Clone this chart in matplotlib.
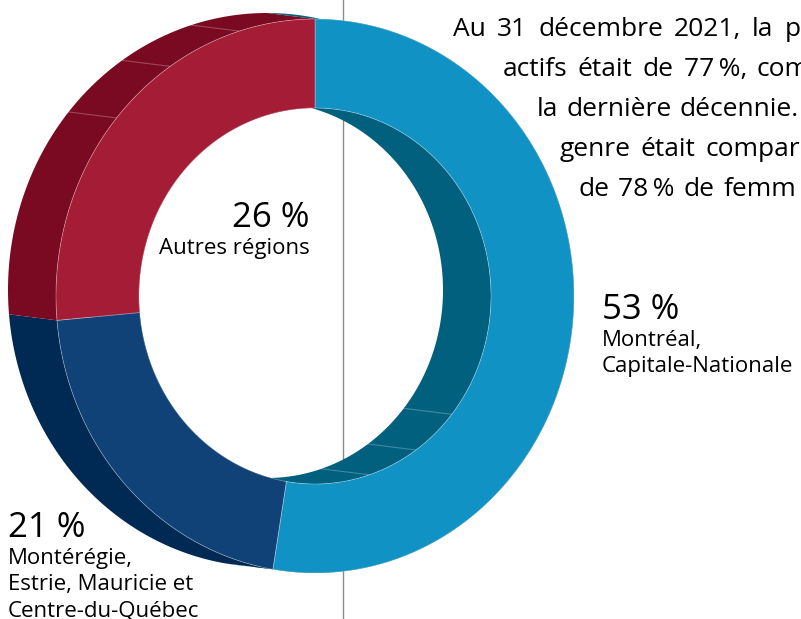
import numpy as np
import matplotlib
matplotlib.use("Agg")
from matplotlib import pyplot as plt
from matplotlib.patches import Polygon

# data (shares estimated from the arcs, labels show the rounded values)
regions = ["Montréal,\nCapitale-Nationale",
           "Montérégie,\nEstrie, Mauricie et\nCentre-du-Québec",
           "Autres régions"]
shares = [52.6, 21.0, 26.4]
face_colors = ["#1192c4", "#104277", "#a41c35"]
side_colors = ["#02607f", "#002953", "#7a0a22"]
intro_lines = ["Au 31 décembre 2021, la p",
               "actifs était de 77\u2009%, com",
               "la dernière décennie.",
               "genre était compar",
               "de 78\u2009% de femm"]

plt.rcParams['font.family'] = ['Open Sans', 'DejaVu Sans']

W, H = 801, 619
fig = plt.figure(figsize=(W / 100, H / 100), dpi=100)
ax = fig.add_axes([0, 0, 1, 1])
ax.set_xlim(0, W)
ax.set_ylim(H, 0)
ax.axis("off")

# donut geometry (pixels): front face, back face shifted up-left
cx, cy = 315, 296
dx, dy = -48, -6
rxo, ryo = 259, 277
rxi, ryi = 176, 188


def arc(x0, y0, rx, ry, t1, t2, n=200):
    t = np.radians(np.linspace(t1, t2, n))
    return np.column_stack([x0 + rx * np.cos(t), y0 - ry * np.sin(t)])


bounds = 90 - 3.6 * np.concatenate([[0], np.cumsum(shares)])

ax.plot([343, 343], [0, H], color="#8c8c8c", lw=1, zorder=0)

# outer walls, then inner walls
for z, (rx, ry) in enumerate([(rxo, ryo), (rxi, ryi)]):
    for i in range(len(shares)):
        t1, t2 = bounds[i], bounds[i + 1]
        pts = np.vstack([arc(cx + dx, cy + dy, rx, ry, t1, t2),
                         arc(cx, cy, rx, ry, t2, t1)])
        ax.add_patch(Polygon(pts, closed=True, fc=side_colors[i], ec="none", zorder=1 + z))

# facet edges on the walls
for rx, ry, angles in [(rxo, ryo, [107, 124, 140]), (rxi, ryi, [-39, -55, -72])]:
    for t in angles:
        (x1, y1), = arc(cx + dx, cy + dy, rx, ry, t, t, 1)
        (x2, y2), = arc(cx, cy, rx, ry, t, t, 1)
        ax.plot([x1, x2], [y1, y2], color="white", alpha=0.25, lw=0.8, zorder=3)

# front faces
for i in range(len(shares)):
    t1, t2 = bounds[i], bounds[i + 1]
    pts = np.vstack([arc(cx, cy, rxo, ryo, t1, t2),
                     arc(cx, cy, rxi, ryi, t2, t1)])
    ax.add_patch(Polygon(pts, closed=True, fc=face_colors[i], zorder=4,
                         ec=(1, 1, 1, 0.35), lw=0.6))

# labels
big, small = 25, 16


def label(x, y, share, name, ha):
    ax.text(x, y, f"{round(share)} %", fontsize=big, ha=ha, va="baseline")
    for k, line in enumerate(name.split("\n")):
        ax.text(x, y + 27 + 26 * k, line, fontsize=small, ha=ha, va="baseline")


label(602, 319, shares[0], regions[0], "left")
label(8, 537, shares[1], regions[1], "left")
label(310, 227, shares[2], regions[2], "right")

# paragraph (justified lines, cut by the right edge)
fig.canvas.draw()
renderer = fig.canvas.get_renderer()
lines_x = [453, 503, 537, 560, 578]
gaps = [11, 10, 8, 10, 9]
for k, (x, gap, line) in enumerate(zip(lines_x, gaps, intro_lines)):
    for word in line.split(" "):
        t = ax.text(x, 36 + 40 * k, word, fontsize=19, ha="left", va="baseline")
        x += t.get_window_extent(renderer).width + gap

fig.savefig("out.png", dpi=100)
